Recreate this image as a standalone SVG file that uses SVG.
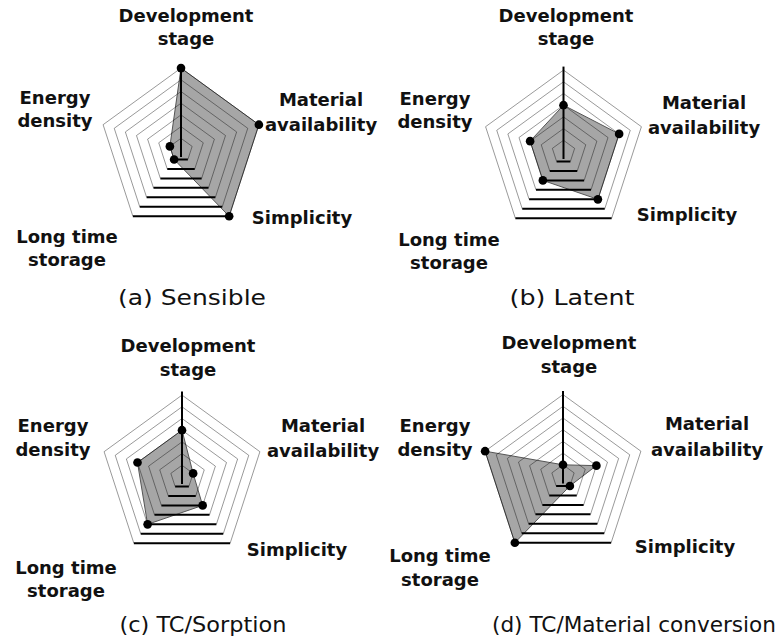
<svg xmlns="http://www.w3.org/2000/svg" xmlns:xlink="http://www.w3.org/1999/xlink" width="782" height="637" viewBox="0 0 782 637">
<style>
.lbl{font-family:"DejaVu Sans","Liberation Sans",sans-serif;font-weight:bold;font-size:18px;fill:#111;text-anchor:middle}
.cap{font-family:"DejaVu Sans","Liberation Sans",sans-serif;font-size:22px;fill:#111;text-anchor:middle}
.gg{fill:none;stroke:#000;stroke-opacity:0.4;stroke-width:1;vector-effect:non-scaling-stroke}
.gb{fill:none;stroke:#000;stroke-width:2;vector-effect:non-scaling-stroke}
.data{fill:#a6a6a6;stroke:#555;stroke-width:1;vector-effect:non-scaling-stroke}
.axis{stroke:#000;stroke-width:2;vector-effect:non-scaling-stroke}
.dot{fill:#000}
</style>
<defs>
<g id="grid">
<polyline class="gg" points="-0.5878,0.809 -0.9511,-0.309 0,-1 0.9511,-0.309 0.5878,0.809"/>
<polyline class="gg" points="-1.1756,1.618 -1.9021,-0.618 0,-2 1.9021,-0.618 1.1756,1.618"/>
<polyline class="gg" points="-1.7634,2.4271 -2.8532,-0.9271 0,-3 2.8532,-0.9271 1.7634,2.4271"/>
<polyline class="gg" points="-2.3511,3.2361 -3.8042,-1.2361 0,-4 3.8042,-1.2361 2.3511,3.2361"/>
<polyline class="gg" points="-2.9389,4.0451 -4.7553,-1.5451 0,-5 4.7553,-1.5451 2.9389,4.0451"/>
<polyline class="gg" points="-3.5267,4.8541 -5.7063,-1.8541 0,-6 5.7063,-1.8541 3.5267,4.8541"/>
<polyline class="gg" points="-4.1145,5.6631 -6.6574,-2.1631 0,-7 6.6574,-2.1631 4.1145,5.6631"/>
</g>
<g id="bottom">
<path class="gb" d="M-0.5878,0.809H0.5878M-1.1756,1.618H1.1756M-1.7634,2.4271H1.7634M-2.3511,3.2361H2.3511M-2.9389,4.0451H2.9389M-3.5267,4.8541H3.5267M-4.1145,5.6631H4.1145"/>
</g>
<line id="axis" class="axis" x1="0" y1="-7.3" x2="0" y2="0.6"/>
</defs>

<g id="chart-a" transform="translate(181,150) scale(11.7)">
<polygon class="data" points="0,-7 6.6574,-2.1631 4.1145,5.6631 -0.5878,0.809 -0.9511,-0.309"/>
<use xlink:href="#grid"/><use xlink:href="#bottom"/><use xlink:href="#axis"/>
<g class="dot"><circle cx="0" cy="-7" r="0.37"/><circle cx="6.6574" cy="-2.1631" r="0.37"/><circle cx="4.1145" cy="5.6631" r="0.37"/><circle cx="-0.5878" cy="0.809" r="0.37"/><circle cx="-0.9511" cy="-0.309" r="0.37"/></g>
</g>
<g id="chart-b" transform="translate(563.5,152) scale(11.7)">
<polygon class="data" points="0,-4 4.7553,-1.5451 2.9389,4.0451 -1.7634,2.4271 -2.8532,-0.9271"/>
<use xlink:href="#grid"/><use xlink:href="#bottom"/><use xlink:href="#axis"/>
<g class="dot"><circle cx="0" cy="-4" r="0.37"/><circle cx="4.7553" cy="-1.5451" r="0.37"/><circle cx="2.9389" cy="4.0451" r="0.37"/><circle cx="-1.7634" cy="2.4271" r="0.37"/><circle cx="-2.8532" cy="-0.9271" r="0.37"/></g>
</g>
<g id="chart-c" transform="translate(182,477) scale(11.7)">
<polygon class="data" points="0,-4 0.9511,-0.309 1.7634,2.4271 -2.9389,4.0451 -3.8042,-1.2361"/>
<use xlink:href="#grid"/><use xlink:href="#bottom"/><use xlink:href="#axis"/>
<g class="dot"><circle cx="0" cy="-4" r="0.37"/><circle cx="0.9511" cy="-0.309" r="0.37"/><circle cx="1.7634" cy="2.4271" r="0.37"/><circle cx="-2.9389" cy="4.0451" r="0.37"/><circle cx="-3.8042" cy="-1.2361" r="0.37"/></g>
</g>
<g id="chart-d" transform="translate(563,476.5) scale(11.7)">
<polygon class="data" points="0,-1 2.8532,-0.9271 0.5878,0.809 -4.1145,5.6631 -6.6574,-2.1631"/>
<use xlink:href="#grid"/><use xlink:href="#bottom"/><use xlink:href="#axis"/>
<g class="dot"><circle cx="0" cy="-1" r="0.37"/><circle cx="2.8532" cy="-0.9271" r="0.37"/><circle cx="0.5878" cy="0.809" r="0.37"/><circle cx="-4.1145" cy="5.6631" r="0.37"/><circle cx="-6.6574" cy="-2.1631" r="0.37"/></g>
</g>

<g id="labels-a">
<text class="lbl" x="186" y="22">Development</text><text class="lbl" x="186" y="45">stage</text>
<text class="lbl" x="321" y="106">Material</text><text class="lbl" x="321" y="131">availability</text>
<text class="lbl" x="55" y="104">Energy</text><text class="lbl" x="55" y="127">density</text>
<text class="lbl" x="302" y="224">Simplicity</text>
<text class="lbl" x="67" y="243">Long time</text><text class="lbl" x="67" y="266">storage</text>
<text class="cap" x="192" y="305" textLength="148" lengthAdjust="spacingAndGlyphs">(a) Sensible</text>
</g>
<g id="labels-b">
<text class="lbl" x="566" y="22">Development</text><text class="lbl" x="566" y="45">stage</text>
<text class="lbl" x="704" y="109">Material</text><text class="lbl" x="704" y="134">availability</text>
<text class="lbl" x="435" y="105">Energy</text><text class="lbl" x="435" y="128">density</text>
<text class="lbl" x="687" y="221">Simplicity</text>
<text class="lbl" x="449" y="246">Long time</text><text class="lbl" x="449" y="269">storage</text>
<text class="cap" x="572" y="305" textLength="125" lengthAdjust="spacingAndGlyphs">(b) Latent</text>
</g>
<g id="labels-c">
<text class="lbl" x="188" y="352">Development</text><text class="lbl" x="188" y="376">stage</text>
<text class="lbl" x="323" y="432">Material</text><text class="lbl" x="323" y="457">availability</text>
<text class="lbl" x="53" y="432">Energy</text><text class="lbl" x="53" y="456">density</text>
<text class="lbl" x="297" y="556">Simplicity</text>
<text class="lbl" x="66" y="574">Long time</text><text class="lbl" x="66" y="597">storage</text>
<text class="cap" x="203" y="632" textLength="167" lengthAdjust="spacingAndGlyphs">(c) TC/Sorption</text>
</g>
<g id="labels-d">
<text class="lbl" x="569" y="349">Development</text><text class="lbl" x="569" y="373">stage</text>
<text class="lbl" x="707" y="430">Material</text><text class="lbl" x="707" y="456">availability</text>
<text class="lbl" x="435" y="432">Energy</text><text class="lbl" x="435" y="456">density</text>
<text class="lbl" x="685" y="553">Simplicity</text>
<text class="lbl" x="440" y="562">Long time</text><text class="lbl" x="440" y="586">storage</text>
<text class="cap" x="634" y="632" textLength="284" lengthAdjust="spacingAndGlyphs">(d) TC/Material conversion</text>
</g>
</svg>
